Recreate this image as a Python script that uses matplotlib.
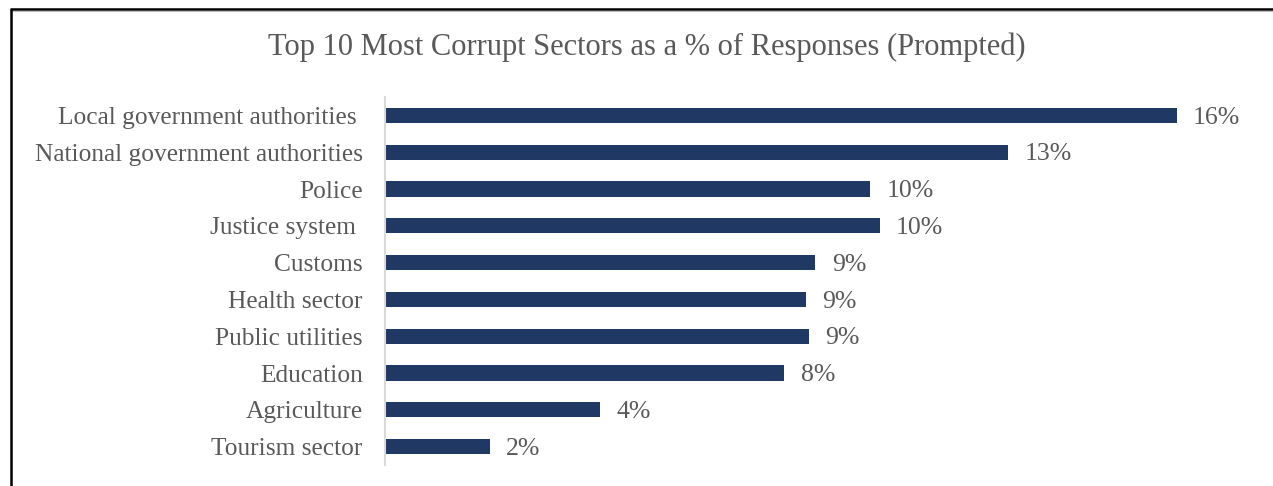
import matplotlib.pyplot as plt
from matplotlib.lines import Line2D

sectors = ["Local government authorities ", "National government authorities", "Police",
           "Justice system ", "Customs", "Health sector", "Public utilities", "Education",
           "Agriculture", "Tourism sector"]
shares = [16.0, 12.6, 9.8, 10.0, 8.7, 8.5, 8.57, 8.07, 4.34, 2.12]

bar_color = "#203864"
text_color = "#595959"

plt.rcParams['font.family'] = ['Liberation Serif', 'DejaVu Serif']

fig = plt.figure(figsize=(12.73, 4.86), dpi=100)
ax = fig.add_axes([0.3024, 0.0432, 0.6803, 0.7572])

pos = list(range(len(sectors)))
ax.barh(pos, shares, height=0.41, color=bar_color)
for p, v in zip(pos, shares):
    ax.text(v + 0.33, p + 0.06, "{}%".format(int(v + 0.5)), va='center', ha='left',
            fontsize=18.5, color=text_color)

ax.set_ylim(len(sectors) - 0.5, -0.5)
ax.set_xlim(0, 17.5)
ax.set_yticks(pos)
ax.set_yticklabels(sectors, fontsize=18.3, color=text_color)
ax.tick_params(axis='y', length=0, pad=16)
ax.set_xticks([])
for s in ['top', 'right', 'bottom']:
    ax.spines[s].set_visible(False)
ax.spines['left'].set_color('#D9D9D9')
ax.spines['left'].set_linewidth(1.5)

fig.text(0.508, 0.903, "Top 10 Most Corrupt Sectors as a % of Responses (Prompted)",
         ha='center', va='center', fontsize=22, color=text_color)

# frame lines along the top and left edge
fig.add_artist(Line2D([0.0079, 1.0], [0.9805, 0.9805], color='black', lw=1.8,
                      solid_capstyle='butt'))
fig.add_artist(Line2D([0.0095, 1.0], [0.9765, 0.9765], color='#BBBBBB', lw=0.8,
                      solid_capstyle='butt'))
fig.add_artist(Line2D([0.0089, 0.0089], [0.0, 0.9820], color='black', lw=1.8,
                      solid_capstyle='butt'))

fig.savefig("out.png", dpi=100)
